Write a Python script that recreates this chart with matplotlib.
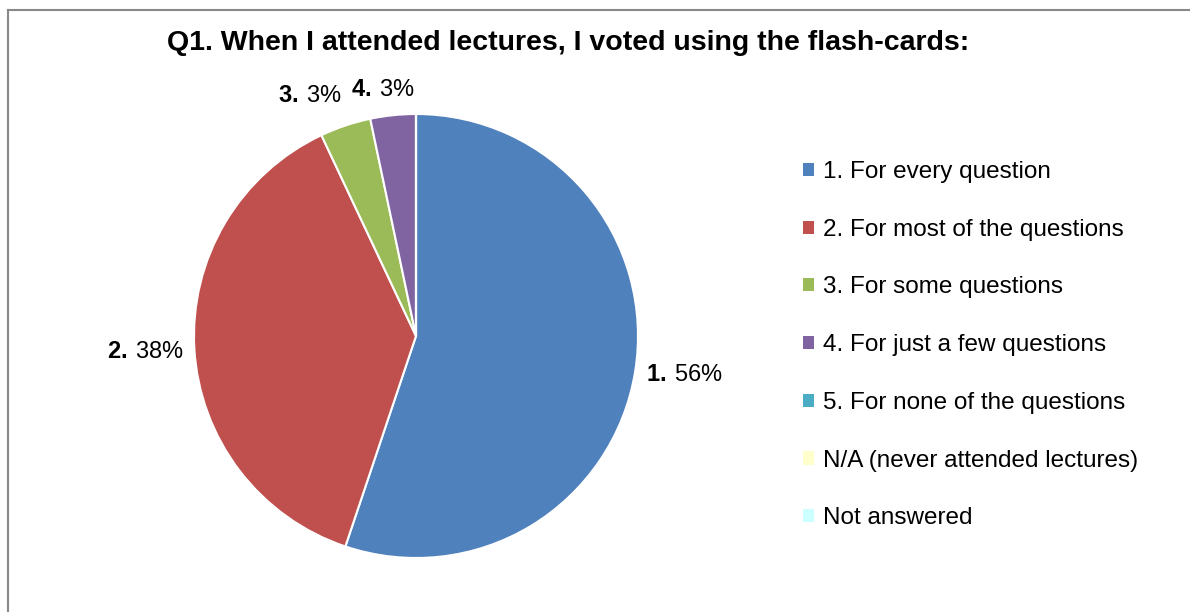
import matplotlib
matplotlib.use("Agg")
import matplotlib.pyplot as plt
import numpy as np
from matplotlib.patches import Patch
from matplotlib.lines import Line2D

plt.rcParams['font.family'] = ['Liberation Sans', 'DejaVu Sans']
plt.rcParams['mathtext.fontset'] = 'custom'
plt.rcParams['mathtext.rm'] = 'Liberation Sans'
plt.rcParams['mathtext.bf'] = 'Liberation Sans:bold'

title = "Q1. When I attended lectures, I voted using the flash-cards:"
categories = ["1. For every question", "2. For most of the questions",
              "3. For some questions", "4. For just a few questions",
              "5. For none of the questions", "N/A (never attended lectures)",
              "Not answered"]
short_labels = ["1.", "2.", "3.", "4.", "5.", "N/A", "NA"]
shares = [55.1, 37.8, 3.7, 3.3, 0.0, 0.0, 0.0]
pct_labels = ["56%", "38%", "3%", "3%", "0%", "0%", "0%"]
colors = ["#4F81BD", "#C0504D", "#9BBB59", "#8064A2", "#4BACC6", "#FFFFCC", "#CCFFFF"]

W, H = 1190, 612
fig = plt.figure(figsize=(W / 100, H / 100), dpi=100)

# outer frame (top and left borders visible)
fig.add_artist(Line2D([8 / W, 1.0], [1 - 10 / H, 1 - 10 / H], color="#888888", lw=1.5,
                      transform=fig.transFigure))
fig.add_artist(Line2D([8 / W, 8 / W], [1 - 10 / H, 0.0], color="#888888", lw=1.5,
                      transform=fig.transFigure))

cx, cy, r = 416, 336, 222
ax = fig.add_axes([(cx - r) / W, (H - cy - r) / H, 2 * r / W, 2 * r / H])
wedges, _ = ax.pie(shares, colors=colors, startangle=90, counterclock=False,
                   wedgeprops=dict(edgecolor="white", linewidth=1.5))
ax.set_xlim(-1, 1)
ax.set_ylim(-1, 1)
ax.set_aspect("equal")
ax.axis("off")

label_dist = [1.22, 1.22, 1.18, 1.12]
label_shift = [0.9, 0.0, 5.3, 1.7]
for i, w in enumerate(wedges):
    if shares[i] <= 0:
        continue
    mid = (w.theta1 + w.theta2) / 2 + label_shift[i]
    x = label_dist[i] * np.cos(np.deg2rad(mid))
    y = label_dist[i] * np.sin(np.deg2rad(mid))
    ax.text(x, y, r"$\mathbf{" + short_labels[i] + r"}\,$" + pct_labels[i],
            ha="center", va="center", fontsize=17, clip_on=False)

fig.text(568 / W, 1 - 43 / H, title, ha="center", va="center",
         fontsize=20.5, fontweight="bold")

handles = [Patch(facecolor=c, edgecolor="none") for c in colors]
fig.legend(handles, categories, loc="upper left",
           bbox_to_anchor=(803 / W, 1 - 161 / H), frameon=False,
           fontsize=17.5, handlelength=0.45, handleheight=0.45, handletextpad=0.37,
           labelspacing=1.47, borderaxespad=0, borderpad=0)

fig.savefig("out.png", dpi=100, facecolor="white")
